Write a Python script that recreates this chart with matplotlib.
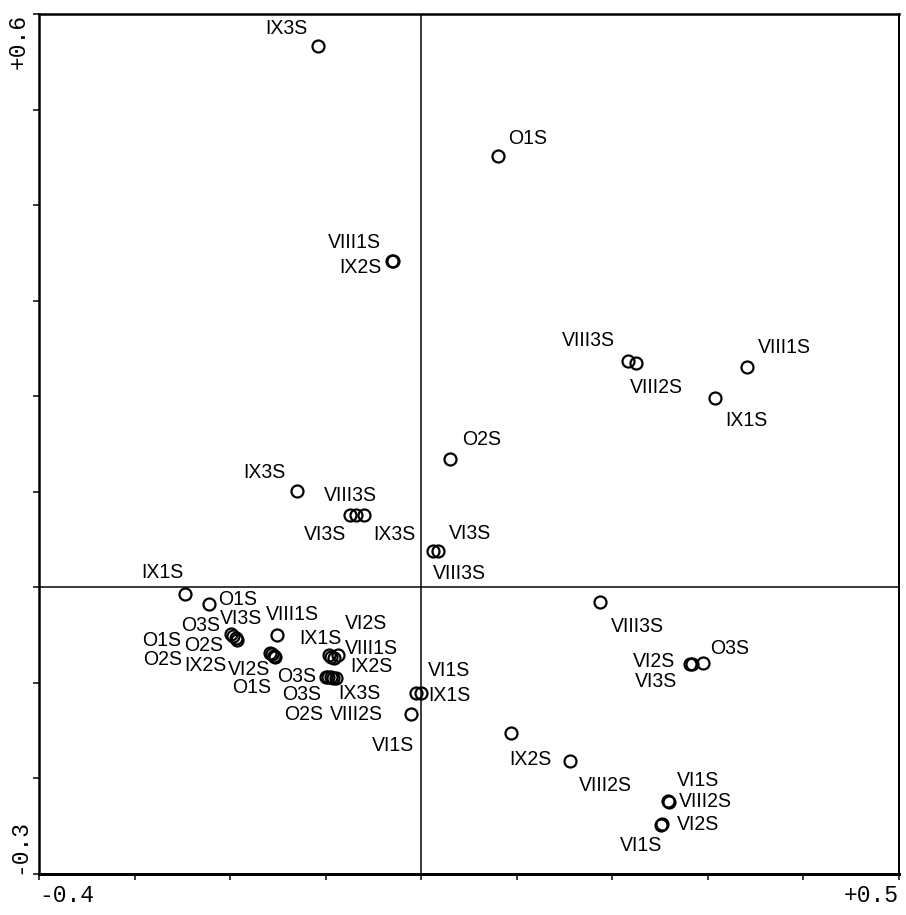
import matplotlib
matplotlib.use("Agg")
import matplotlib.pyplot as plt

# ---- data ----
labels = [
    "IX3S", "O1S", "VIII1S", "IX2S", "VIII3S", "VIII2S", "VIII1S", "IX1S",
    "O2S", "IX3S", "VI3S", "VIII3S", "IX3S", "VIII3S", "VI3S",
    "IX1S", "O1S", "O3S", "VI3S", "O1S", "O2S",
    "O2S", "IX2S", "VI2S", "O1S", "VIII1S",
    "VI2S", "IX1S", "VIII1S", "IX2S",
    "O3S", "O3S", "IX3S", "O2S", "VIII2S",
    "VI1S", "IX1S", "VI1S",
    "VIII3S", "VI2S", "VI3S", "O3S",
    "IX2S", "VIII2S", "VI1S", "VIII2S", "VI2S", "VI1S",
]
x_vals = [
    -0.108, 0.080, -0.031, -0.030, 0.216, 0.225, 0.341, 0.308,
    0.030, -0.130, -0.075, -0.068, -0.060, 0.012, 0.018,
    -0.247, -0.222, -0.199, -0.197, -0.194, -0.193,
    -0.158, -0.156, -0.154, -0.153, -0.151,
    -0.096, -0.094, -0.087, -0.091,
    -0.100, -0.098, -0.094, -0.092, -0.089,
    -0.005, 0.000, -0.011,
    0.187, 0.281, 0.283, 0.295,
    0.094, 0.156, 0.258, 0.259, 0.252, 0.251,
]
y_vals = [
    0.566, 0.451, 0.342, 0.341, 0.237, 0.235, 0.231, 0.198,
    0.134, 0.101, 0.076, 0.076, 0.076, 0.038, 0.038,
    -0.007, -0.017, -0.049, -0.051, -0.053, -0.055,
    -0.069, -0.070, -0.072, -0.073, -0.050,
    -0.071, -0.073, -0.071, -0.074,
    -0.094, -0.094, -0.094, -0.095, -0.095,
    -0.111, -0.111, -0.133,
    -0.015, -0.080, -0.080, -0.079,
    -0.152, -0.182, -0.224, -0.225, -0.248, -0.249,
]
x_ticks = [-0.4, -0.3, -0.2, -0.1, 0.0, 0.1, 0.2, 0.3, 0.4, 0.5]
x_tick_labels = ["-0.4", "", "", "", "", "", "", "", "", "+0.5"]
y_ticks = [-0.3, -0.2, -0.1, 0.0, 0.1, 0.2, 0.3, 0.4, 0.5, 0.6]
y_tick_labels = ["-0.3", "", "", "", "", "", "", "", "", "+0.6"]

# ---- label placement (offset in points, horizontal alignment) ----
label_place = [
    (-10, 12, "right"), (11, 12, "left"), (-11, 13, "right"), (-11, -12, "right"),
    (-13, 15, "right"), (-6, -30, "left"), (11, 14, "left"), (10, -28, "left"),
    (12, 14, "left"), (-11, 13, "right"), (-3, -25, "right"), (-32, 14, "left"),
    (9, -25, "left"), (0, -28, "left"), (11, 12, "left"),
    (-2, 16, "right"), (9, -1, "left"), (-11, 3, "right"), (-13, 12, "left"),
    (-55, -8, "right"), (-14, -11, "right"),
    (-88, -12, "right"), (-46, -17, "right"), (-4, -19, "right"), (-4, -36, "right"),
    (-11, 15, "left"),
    (15, 26, "left"), (-32, 13, "left"), (7, 1, "left"), (16, -14, "left"),
    (-9, -5, "right"), (-6, -23, "right"), (7, -22, "left"), (-10, -42, "right"),
    (-6, -42, "left"),
    (12, 17, "left"), (7, -8, "left"), (3, -37, "right"),
    (11, -30, "left"), (-15, -3, "right"), (-14, -23, "right"), (7, 9, "left"),
    (-2, -32, "left"), (9, -30, "left"), (9, 15, "left"), (10, -5, "left"),
    (15, -6, "left"), (1, -26, "right"),
]

fig = plt.figure(figsize=(906 / 72, 915 / 72), dpi=72)
fig.patch.set_facecolor("white")
ax = fig.add_axes([0.043, 0.0448, 0.9492, 0.9399])
ax.set_xlim(-0.4, 0.5)
ax.set_ylim(-0.3, 0.6)

ax.axhline(0, color="black", lw=1.5, zorder=1)
ax.axvline(0, color="black", lw=1.5, zorder=1)

ax.plot(x_vals, y_vals, linestyle="none", marker="o", ms=12, mfc="none",
        mec="black", mew=2.2, zorder=3)

for lab, xv, yv, (dx, dy, ha) in zip(labels, x_vals, y_vals, label_place):
    ax.annotate(lab, (xv, yv), xytext=(dx, dy), textcoords="offset points",
                ha=ha, va="baseline", fontsize=19.5, family="Liberation Sans",
                color="black", zorder=4)

ax.set_xticks(x_ticks)
ax.set_xticklabels(x_tick_labels, family="Liberation Mono", fontsize=23)
ax.set_yticks(y_ticks)
ax.set_yticklabels(y_tick_labels, family="Liberation Mono", fontsize=23,
                   rotation=90)
ax.tick_params(axis="both", direction="out", length=6, width=1.5, color="black")
ax.tick_params(axis="x", pad=4)
ax.tick_params(axis="y", pad=3)
xl = ax.get_xticklabels()
xl[0].set_ha("left")
xl[-1].set_ha("right")
yl = ax.get_yticklabels()
yl[0].set_va("bottom")
yl[-1].set_va("top")

ax.spines["bottom"].set_linewidth(3)
ax.spines["left"].set_linewidth(2.5)
ax.spines["top"].set_linewidth(2.5)
ax.spines["right"].set_linewidth(2)

fig.savefig("out.png", dpi=72, facecolor="white")
